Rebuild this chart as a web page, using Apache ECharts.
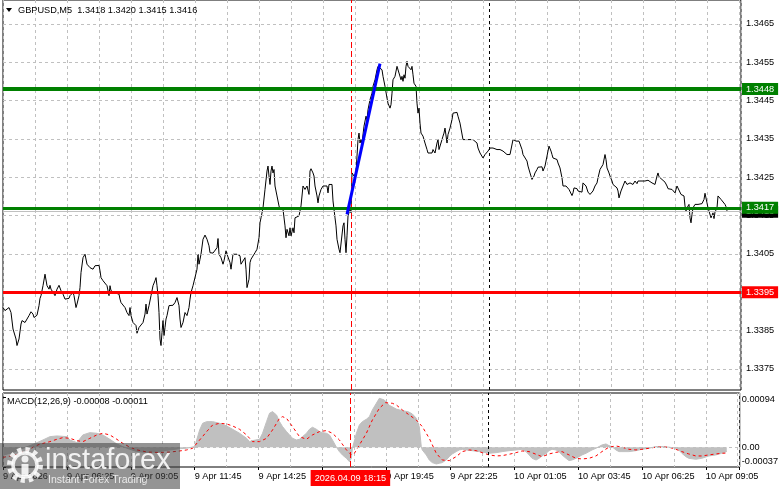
<!DOCTYPE html>
<html><head><meta charset="utf-8">
<script src="https://cdn.jsdelivr.net/npm/echarts@6/dist/echarts.min.js"></script>
<style>html,body{margin:0;padding:0;background:#fff}#c{width:781px;height:489px}</style>
</head><body><div id="c"></div>
<script>
const symbolTitle = 'GBPUSD,M5  1.3418 1.3420 1.3415 1.3416';
const macdTitle = 'MACD(12,26,9) -0.00008 -0.00011';
const timeLabels = ['9 Apr 2026','9 Apr 06:25','9 Apr 09:05','9 Apr 11:45','9 Apr 14:25','9 Apr 17:05','9 Apr 19:45','9 Apr 22:25','10 Apr 01:05','10 Apr 03:45','10 Apr 06:25','10 Apr 09:05'];
const priceTicks = [1.3375,1.3385,1.3395,1.3405,1.3415,1.3425,1.3435,1.3445,1.3455,1.3465];
const macdTicks = [0.00094, 0, -0.00037];
const levelPrices = [1.3448, 1.3417, 1.3395];
const bidPrice = 1.3416;
const cursorBar = 174;
const cursorLabel = '2026.04.09 18:15';
const daySeparatorBar = 243;
const trendPoints = [[172, 1.34153], [188.5, 1.34546]];

const pricePoints = [
[0,1.33910],[1,1.33902],[2,1.33904],[3,1.33910],[4,1.33897],[5,1.33854],[6.5,1.33828],[7,1.33811],[8,1.33828],[9,1.33867],
[9.5,1.33876],[10,1.33871],[11,1.33871],[12,1.33873],[13,1.33889],[14,1.33899],[15,1.33893],[15.5,1.33884],[16,1.33889],[16.5,1.33880],
[17,1.33890],[18,1.33915],[18.5,1.33934],[19,1.33941],[20,1.33967],[21,1.33997],[22,1.33967],[23,1.33958],[23.5,1.33968],[24,1.33958],
[25,1.33962],[26,1.33941],[27,1.33958],[28,1.33968],[29,1.33954],[30,1.33945],[31,1.33932],[32,1.33928],[33,1.33934],[33.5,1.33941],
[35,1.33949],[35.5,1.33941],[36.5,1.33910],[37,1.33919],[38,1.33941],[38.5,1.33962],[39,1.34001],[40,1.34040],[41,1.34049],[42,1.34023],
[43,1.34020],[43.5,1.34014],[44,1.34019],[45,1.34010],[46,1.34019],[47,1.34014],[48,1.34020],[48.5,1.34006],[49,1.33988],[50,1.33980],
[51,1.33975],[52,1.33967],[53,1.33941],[53.5,1.33967],[54,1.33954],[55,1.33949],[56,1.33948],[57,1.33949],[58,1.33945],[58.5,1.33932],
[59,1.33923],[60,1.33919],[61,1.33910],[62,1.33897],[63,1.33889],[63.5,1.33910],[64,1.33889],[65,1.33871],[66,1.33867],[66.5,1.33863],
[67,1.33843],[68,1.33858],[69,1.33863],[70,1.33871],[71,1.33893],[71.5,1.33919],[72,1.33893],[73,1.33915],[74,1.33941],[75,1.33967],
[76,1.33980],[76.5,1.33988],[77,1.33967],[77.5,1.33941],[78,1.33897],[78.5,1.33828],[79,1.33811],[79.5,1.33845],[80,1.33876],[80.5,1.33837],
[81,1.33858],[81.5,1.33880],[82,1.33889],[83,1.33915],[83.5,1.33915],[84,1.33919],[85,1.33916],[86,1.33923],[87,1.33936],[88,1.33915],
[88.5,1.33880],[89,1.33858],[90,1.33871],[91,1.33897],[92,1.33889],[93,1.33910],[93.5,1.33932],[94,1.33949],[95,1.33967],[96,1.33971],
[97,1.34010],[97.5,1.34049],[98,1.34023],[98.5,1.34036],[99,1.34049],[100,1.34088],[101,1.34099],[102,1.34088],[103,1.34071],[103.5,1.34053],
[104,1.34049],[105,1.34052],[106,1.34049],[107,1.34066],[107.5,1.34090],[108,1.34049],[109,1.34040],[110,1.34023],[110.5,1.34032],[111.5,1.34058],
[112,1.34049],[113.5,1.34027],[114,1.34010],[115,1.34049],[116,1.34052],[117,1.34049],[118,1.34049],[118.5,1.34045],[119,1.34023],[120,1.34027],
[121,1.34040],[121.5,1.34010],[122,1.33962],[123,1.33984],[123.5,1.34027],[124,1.34036],[125,1.34032],[126,1.34053],[127,1.34062],[128,1.34092],
[128.5,1.34131],[129,1.34144],[130,1.34170],[131,1.34218],[132,1.34266],[132.5,1.34279],[133,1.34253],[133.5,1.34231],[134,1.34266],[134.5,1.34279],
[135,1.34261],[135.5,1.34270],[136,1.34227],[137,1.34201],[138,1.34175],[138.5,1.34166],[139,1.34162],[140,1.34166],[141,1.34123],[141.5,1.34092],
[142,1.34114],[143,1.34097],[143.5,1.34118],[144,1.34097],[145,1.34118],[145.5,1.34105],[146,1.34144],[147,1.34140],[148,1.34149],[148.5,1.34153],
[149,1.34175],[150,1.34227],[151,1.34218],[152,1.34227],[153,1.34205],[153.5,1.34266],[154,1.34272],[155,1.34261],[155.5,1.34253],[156,1.34227],
[157,1.34201],[157.5,1.34183],[158,1.34201],[159,1.34218],[160,1.34227],[161,1.34231],[162,1.34227],[162.5,1.34209],[163,1.34231],[164,1.34227],
[164.5,1.34231],[165,1.34188],[166,1.34144],[166.5,1.34123],[167,1.34088],[168,1.34062],[168.5,1.34053],[169.5,1.34058],[170,1.34123],[170.5,1.34131],
[171,1.34088],[171.5,1.34053],[172,1.34097],[172.5,1.34149],[173.5,1.34166],[174,1.34157],[174.5,1.34261],[175,1.34266],[175.5,1.34253],[176.5,1.34261],
[177,1.34305],[177.5,1.34348],[178,1.34365],[178.5,1.34339],[179,1.34348],[179.5,1.34339],[180,1.34335],[180.5,1.34383],[181.5,1.34409],[182,1.34400],
[182.5,1.34426],[183.5,1.34452],[184.5,1.34469],[185,1.34487],[186,1.34504],[187,1.34530],[187.5,1.34539],[188.5,1.34543],[189.5,1.34530],[190,1.34513],
[191,1.34487],[192,1.34456],[192.5,1.34443],[193.5,1.34430],[194,1.34439],[194.5,1.34469],[195,1.34504],[196,1.34513],[197,1.34539],[197.5,1.34543],
[198,1.34534],[199,1.34504],[199.5,1.34513],[200,1.34500],[200.5,1.34517],[201,1.34508],[201.5,1.34539],[202,1.34552],[202.5,1.34539],[203,1.34543],
[204,1.34530],[204.5,1.34539],[205,1.34517],[205.5,1.34495],[206,1.34500],[206.5,1.34487],[207,1.34443],[207.5,1.34417],[208,1.34430],[208.5,1.34391],
[209,1.34365],[210,1.34357],[210.5,1.34348],[211,1.34339],[212,1.34322],[212.5,1.34313],[213.5,1.34318],[214.5,1.34313],[215,1.34322],[216,1.34313],
[217,1.34339],[217.5,1.34348],[218,1.34322],[218.5,1.34326],[219.5,1.34348],[220,1.34357],[220.5,1.34365],[221,1.34378],[222,1.34339],[222.5,1.34361],
[223.5,1.34378],[224.5,1.34400],[225,1.34417],[226,1.34413],[227,1.34419],[227.5,1.34409],[228.5,1.34391],[229.5,1.34387],[230,1.34348],[231,1.34344],
[232,1.34348],[232.5,1.34344],[233.5,1.34348],[234.5,1.34350],[235,1.34348],[236,1.34348],[237,1.34339],[237.5,1.34326],[238.5,1.34313],[239.5,1.34309],
[240,1.34300],[241,1.34309],[242,1.34313],[242.5,1.34318],[243.5,1.34326],[244.5,1.34331],[245,1.34326],[246,1.34331],[247,1.34322],[247.5,1.34324],
[248.5,1.34322],[249.5,1.34318],[250,1.34318],[251,1.34313],[252,1.34309],[252.5,1.34305],[253.5,1.34309],[254.5,1.34313],[255,1.34348],[255.5,1.34348],
[256.5,1.34344],[257,1.34344],[258,1.34344],[259,1.34339],[259.5,1.34322],[260,1.34309],[261,1.34309],[262,1.34292],[262.5,1.34279],[263.5,1.34261],
[264.5,1.34244],[265,1.34240],[265.5,1.34253],[266,1.34261],[267,1.34270],[267.5,1.34276],[268.5,1.34279],[269.5,1.34277],[270,1.34266],[271,1.34279],
[272,1.34305],[272.5,1.34318],[273,1.34331],[274,1.34318],[274.5,1.34309],[275,1.34300],[276,1.34299],[277,1.34296],[277.5,1.34287],[278.5,1.34274],
[279.5,1.34248],[280,1.34227],[280.5,1.34222],[281.5,1.34227],[282,1.34222],[283,1.34218],[283.5,1.34214],[284.5,1.34202],[285,1.34209],[285.5,1.34222],
[286,1.34227],[287,1.34220],[287.5,1.34214],[288.5,1.34209],[289.5,1.34211],[290,1.34235],[290.5,1.34240],[291.5,1.34227],[292,1.34222],[292.5,1.34211],
[293.5,1.34205],[294.5,1.34209],[295,1.34214],[296,1.34227],[297,1.34235],[297.5,1.34248],[298.5,1.34270],[299.5,1.34274],[300,1.34283],[301,1.34309],
[301.5,1.34296],[302,1.34274],[303,1.34261],[303.5,1.34253],[304,1.34257],[304.5,1.34240],[305,1.34231],[306,1.34227],[307,1.34222],[307.5,1.34214],
[308,1.34196],[309,1.34214],[309.5,1.34218],[310,1.34227],[311,1.34240],[312,1.34231],[312.5,1.34227],[313.5,1.34235],[314.5,1.34235],[315,1.34231],
[316,1.34240],[317,1.34233],[317.5,1.34240],[319.5,1.34240],[321,1.34240],[322.5,1.34242],[323.5,1.34240],[324.5,1.34235],[325,1.34240],[326,1.34231],
[327,1.34253],[327.5,1.34261],[328,1.34251],[329.5,1.34244],[330,1.34240],[331,1.34237],[332,1.34227],[332.5,1.34220],[333.5,1.34222],[334.5,1.34218],
[335,1.34218],[336,1.34209],[337,1.34227],[337.5,1.34231],[338,1.34222],[339,1.34205],[339.5,1.34209],[340.5,1.34201],[341,1.34175],[341.5,1.34162],
[342,1.34170],[343,1.34179],[343.5,1.34144],[344,1.34131],[344.5,1.34153],[345,1.34170],[346,1.34179],[347,1.34175],[347.5,1.34179],[348.5,1.34179],
[349.5,1.34181],[350,1.34183],[350.5,1.34192],[351,1.34208],[352,1.34183],[352.5,1.34170],[353.5,1.34166],[354,1.34144],[355,1.34157],[355.5,1.34142],
[356,1.34159],[357,1.34170],[357.5,1.34201],[358,1.34196],[359,1.34192],[359.5,1.34190],[360,1.34192],[361,1.34179],[361.5,1.34173],[362,1.34162]
];

const histPoints = [
[0,-0.00015],[5,-0.00010],[10,-0.00002],[15,0.00005],[20,0.000134],[23.5,0.000196],[27,0.000209],[32,0.000196],[33.5,0.000134],[37,0.000085],
[40,0.000228],[43.5,0.000271],[47,0.000259],[50,0.000228],[53.5,0.000147],[57,0.00006],[60,0.00001],[63.5,-0.00004],[67,-0.00008],[72,-0.00010],
[77,-0.00009],[82,-0.00006],[88,-0.00003],[92,-0.00002],[96,0.00001],[97,0.000134],[98.5,0.000321],[100,0.000445],[102,0.000476],[105,0.000476],
[108.5,0.000445],[112,0.000395],[115,0.000333],[118.5,0.000259],[122,0.000165],[123.5,0.000103],[125,0.000122],[128.5,0.000147],[130,0.000259],[132,0.000476],
[133.5,0.000632],[135,0.000663],[137,0.0006],[138.5,0.000476],[140,0.000383],[142,0.00029],[143.5,0.000228],[145,0.000165],[147,0.000134],[148.5,0.000147],
[150,0.000196],[152,0.000259],[153.5,0.000333],[155,0.000371],[157,0.000333],[158.5,0.00029],[160,0.000271],[162,0.000259],[163.5,0.000228],[165,0.000134],
[167,0],[168.5,-0.000083],[170,-0.000145],[172,-0.000208],[173.5,-0.00027],[174.5,-0.000208],[175,-0.000021],[177,0.000259],[178.5,0.000414],[180,0.000476],
[182,0.00052],[183.5,0.000569],[185,0.000694],[187,0.000818],[188.5,0.000911],[189.5,0.00094],[191,0.00088],[193.5,0.00078],[197,0.00071],[200,0.00068],
[203,0.00066],[205,0.00062],[207,0.00054],[208.5,0.00038],[209.5,0.00001],[210,-0.000052],[212,-0.000145],[213.5,-0.000239],[215,-0.000288],[217,-0.000313],
[218.5,-0.000301],[220,-0.000288],[222,-0.000239],[223.5,-0.000177],[225,-0.000127],[227,-0.000083],[228.5,-0.000052],[230,-0.00004],[232,-0.000052],[235,-0.000065],
[238.5,-0.000083],[242,-0.000102],[243.5,-0.000114],[247,-0.000102],[250,-0.000083],[253.5,-0.000065],[257,-0.000052],[260,-0.00004],[262,-0.000083],[263.5,-0.000145],
[265,-0.000208],[267,-0.000239],[268.5,-0.000208],[270,-0.000164],[272,-0.000114],[273.5,-0.000065],[275,-0.00004],[277,-0.000052],[278.5,-0.000083],[280,-0.000145],
[282,-0.000208],[283.5,-0.000251],[285,-0.000239],[287,-0.000208],[288.5,-0.000177],[290,-0.000145],[292,-0.000114],[293.5,-0.000083],[295,-0.000052],[297,-0.000021],
[298.5,0.00001],[300,0.000041],[302,0.00006],[303.5,0.000029],[305,0.00001],[307,-0.000052],[308.5,-0.000083],[310,-0.000083],[313.5,-0.000083],[317,-0.000065],
[320,-0.00004],[323.5,-0.000021],[327,0.00001],[330,0.00001],[333.5,0],[337,-0.000021],[338.5,-0.000052],[340,-0.000114],[342,-0.000177],[343.5,-0.000208],
[347,-0.000226],[350,-0.000208],[353.5,-0.000164],[357,-0.000145],[360,-0.000114],[362.5,-0.00008]
];

const signalPoints = [
[0,-0.00019],[6,-0.00015],[12,-0.00006],[18,0.00005],[23.5,0.000103],[27,0.000147],[30,0.000178],[33.5,0.000165],[37,0.000122],[40,0.000103],
[43.5,0.000165],[47,0.000228],[50,0.000259],[53.5,0.000228],[57,0.000147],[60,0.000072],[63.5,0],[67,-0.00005],[72,-0.00009],[78,-0.0001],
[84,-0.00009],[88.5,-0.000071],[92,-0.000052],[95,-0.000021],[98.5,0.000134],[102,0.00029],[105,0.000414],[108.5,0.000445],[112,0.000433],[115,0.000395],
[118.5,0.000333],[122,0.000228],[125,0.000103],[128.5,0.000103],[132,0.000165],[135,0.000321],[138.5,0.000538],[140,0.000569],[142,0.000538],[145,0.000383],
[148.5,0.000196],[152,0.000147],[155,0.000228],[158.5,0.00029],[162,0.000309],[165,0.000259],[168.5,0.000134],[172,-0.000052],[174.5,-0.000145],[176,-0.000114],
[178.5,0.000041],[182,0.000259],[185,0.000507],[188.5,0.000725],[191.5,0.00083],[195,0.000818],[197,0.000787],[200,0.000694],[203.5,0.0006],[207,0.000507],
[210,0.000383],[213.5,0.000165],[217,-0.000114],[220,-0.000239],[223.5,-0.000251],[227,-0.000177],[230,-0.000083],[233.5,-0.000052],[237,-0.000065],[240,-0.000102],
[243.5,-0.000145],[247,-0.000164],[250,-0.000158],[253.5,-0.000133],[257,-0.000102],[260,-0.000071],[263.5,-0.000083],[267,-0.000133],[270,-0.000177],[273.5,-0.000127],
[277,-0.000096],[280,-0.000083],[283.5,-0.000145],[287,-0.000208],[290,-0.00022],[293.5,-0.000208],[297,-0.000164],[300,-0.000083],[303.5,0],[307,0.000022],
[310,0],[313.5,-0.00004],[317,-0.000052],[320,-0.00004],[323.5,-0.000021],[327,0],[333.5,0],[337,-0.00004],[340,-0.000083],[343.5,-0.000127],
[347,-0.000164],[350,-0.000164],[353.5,-0.000145],[357,-0.000127],[360,-0.000114],[362.5,-0.00011]
];

const F = 'Liberation Sans';
const FS = 9.2;
const gridDash = {color:'#c0c0c0', type:[3,3], width:1};
const chart = echarts.init(document.getElementById('c'), null, {renderer:'canvas'});

const xBase = {type:'value', min:0, max:369, axisLine:{show:false}, axisTick:{show:false}, axisLabel:{show:false}};
const boxLabel = (text, bg) => ({show:true, position:'end', distance:1, formatter:text, backgroundColor:bg, color:'#fff', padding:[2,4,1,4], fontSize:FS, fontFamily:F});

const option = {
  animation:false,
  backgroundColor:'#fff',
  grid:[
    {left:3, right:40, top:0, height:390, show:true, borderColor:'#000', borderWidth:1, backgroundColor:'transparent'},
    {left:3, right:40, top:393, height:74, show:true, borderColor:'#000', borderWidth:1, backgroundColor:'transparent'}
  ],
  xAxis:[
    Object.assign({}, xBase, {gridIndex:0, interval:16, splitLine:{show:true, lineStyle:gridDash}}),
    Object.assign({}, xBase, {gridIndex:1, interval:16, position:'top', splitLine:{show:true, lineStyle:gridDash}}),
    Object.assign({}, xBase, {gridIndex:1, interval:32, position:'bottom', splitLine:{show:false},
      axisTick:{show:true, length:3, lineStyle:{color:'#000'}},
      axisLabel:{show:true, align:'left', margin:5, fontSize:FS, fontFamily:F, color:'#000',
        formatter: v => (v % 32 === 0 && timeLabels[v / 32]) || ''}})
  ],
  yAxis:[
    {gridIndex:0, type:'value', position:'right', min:1.33695, max:1.34712,
      axisLine:{show:false}, splitLine:{show:false},
      axisTick:{show:true, length:3, customValues:priceTicks, lineStyle:{color:'#000'}},
      axisLabel:{customValues:priceTicks, margin:5, fontSize:FS, fontFamily:F, color:'#000', formatter: v => v.toFixed(4)}},
    {gridIndex:1, type:'value', position:'right', min:-0.00037, max:0.00101,
      axisLine:{show:false}, splitLine:{show:false},
      axisTick:{show:true, length:3, customValues:macdTicks, lineStyle:{color:'#000'}},
      axisLabel:{customValues:macdTicks, margin:2, fontSize:FS, fontFamily:F, color:'#000',
        formatter: v => v === 0 ? '0.00' : (v > 0 ? '{t|' + v.toFixed(5) + '}' : '{b|' + v.toFixed(5) + '}'),
        rich:{t:{padding:[6,0,0,0], fontSize:FS, fontFamily:F, color:'#000'}, b:{padding:[0,0,12,0], fontSize:FS, fontFamily:F, color:'#000'}}}}
  ],
  series:[
    {type:'line', xAxisIndex:0, yAxisIndex:0, data:pricePoints, symbol:'none', z:3,
      lineStyle:{color:'#000', width:1},
      markLine:{symbol:['none','none'], silent:true, animation:false, precision:8, label:{show:false},
        data: priceTicks.map(p => ({yAxis:p, lineStyle:gridDash})).concat([
          {yAxis:bidPrice, lineStyle:{color:'#c0c0c0', type:'solid', width:1}, label:boxLabel(bidPrice.toFixed(4), '#000')},
          {xAxis:cursorBar, lineStyle:{color:'#ff0000', type:[6,3], width:1}},
          {xAxis:daySeparatorBar, lineStyle:{color:'#000', type:[3,3], width:1}}
        ])}},
    {type:'line', xAxisIndex:0, yAxisIndex:0, data:trendPoints, symbol:'none', z:5,
      lineStyle:{color:'#0000ff', width:3},
      markLine:{symbol:['none','none'], silent:true, animation:false, precision:8,
        data: levelPrices.map((p, k) => ({yAxis:p,
          lineStyle:{color: k < 2 ? '#008000' : '#ff0000', width: k === 0 ? 4 : 3, type:'solid'},
          label: boxLabel(p.toFixed(4), k < 2 ? '#008000' : '#ff0000')}))}},
    {type:'line', xAxisIndex:1, yAxisIndex:1, data:histPoints, symbol:'none', z:2,
      lineStyle:{color:'#c0c0c0', width:1}, areaStyle:{color:'#c0c0c0', opacity:1, origin:0}},
    {type:'line', xAxisIndex:1, yAxisIndex:1, data:signalPoints, symbol:'none', z:3,
      lineStyle:{color:'#ff0000', width:1, type:[3,3]},
      markLine:{symbol:['none','none'], silent:true, animation:false, precision:8, label:{show:false},
        data:[
          {yAxis:0, lineStyle:gridDash},
          {xAxis:cursorBar, lineStyle:{color:'#ff0000', type:[6,3], width:1},
            label:{show:true, position:'start', distance:3, formatter:cursorLabel, backgroundColor:'#ff0000', color:'#fff', padding:[4,4,3,4], fontSize:FS, fontFamily:F}},
          {xAxis:daySeparatorBar, lineStyle:{color:'#000', type:[3,3], width:1}}
        ]}}
  ],
  graphic:[
    {type:'polygon', shape:{points:[[6,8],[12,8],[9,12]]}, style:{fill:'#000'}, z:50},
    {type:'text', x:18, y:10, style:{text:symbolTitle, font:FS + 'px ' + F, fill:'#000', verticalAlign:'middle'}, z:50},
    {type:'text', x:7, y:401, style:{text:macdTitle, font:FS + 'px ' + F, fill:'#000', verticalAlign:'middle'}, z:50},
    {type:'rect', shape:{x:0, y:443, width:180, height:46}, style:{fill:'rgba(60,60,60,0.55)'}, z:100},
    {type:'circle', shape:{cx:25, cy:465, r:15}, style:{fill:'none', stroke:'rgba(255,255,255,0.85)', lineWidth:6, lineDash:[4,3.85]}, z:101},
    {type:'circle', shape:{cx:25, cy:465, r:12}, style:{fill:'none', stroke:'rgba(255,255,255,0.85)', lineWidth:3.5}, z:101},
    {type:'circle', shape:{cx:25, cy:459, r:3.5}, style:{fill:'rgba(255,255,255,0.85)'}, z:101},
    {type:'rect', shape:{x:21.5, y:464, width:7, height:12}, style:{fill:'rgba(255,255,255,0.85)'}, z:101},
    {type:'text', x:45, y:461, style:{text:'instaforex', font:'29px ' + F, fill:'rgba(255,255,255,0.88)', verticalAlign:'middle'}, z:101},
    {type:'text', x:48, y:480, style:{text:'Instant Forex Trading', font:'10.5px ' + F, fill:'rgba(255,255,255,0.8)', verticalAlign:'middle'}, z:101}
  ]
};
chart.setOption(option);
</script>
</body></html>
